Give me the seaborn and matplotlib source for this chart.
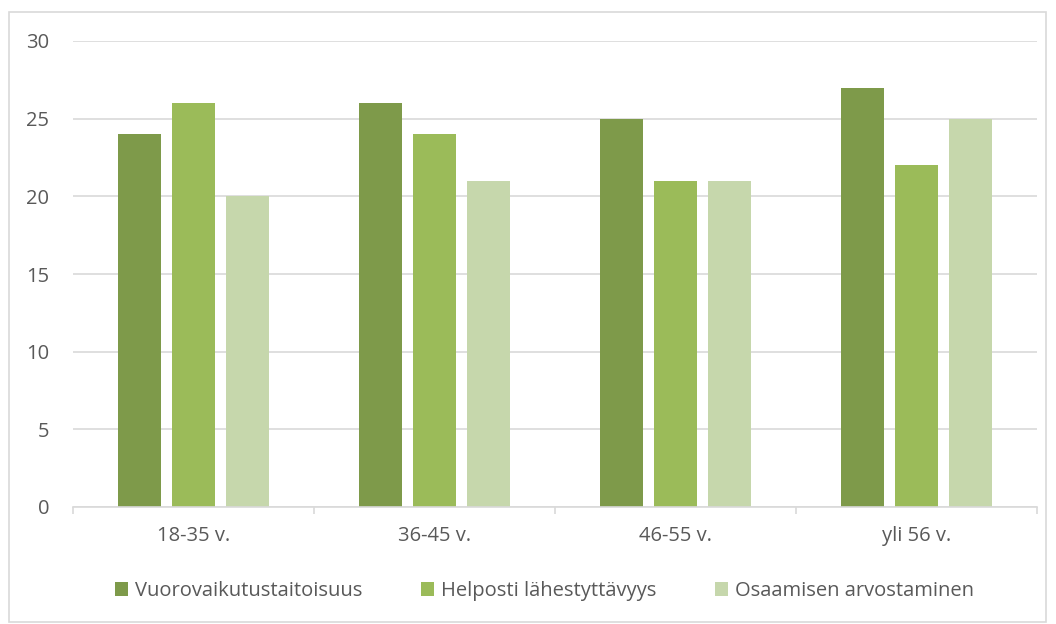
import numpy as np
import pandas as pd
import seaborn as sns
import matplotlib.pyplot as plt
from matplotlib.patches import Rectangle

# chart data
age_groups = ["18-35 v.", "36-45 v.", "46-55 v.", "yli 56 v."]
series_names = ["Vuorovaikutustaitoisuus", "Helposti lähestyttävyys", "Osaamisen arvostaminen"]
vuorovaikutus = [24, 26, 25, 27]
helposti = [26, 24, 21, 22]
osaaminen = [20, 21, 21, 25]
colors = ["#7E9A4A", "#9BBB59", "#C6D7AC"]

sns.set_style("white")
plt.rcParams['font.family'] = ['Open Sans', 'DejaVu Sans']

df = pd.DataFrame({
    "group": age_groups * 3,
    "series": [series_names[0]] * 4 + [series_names[1]] * 4 + [series_names[2]] * 4,
    "value": vuorovaikutus + helposti + osaaminen,
})

fig = plt.figure(figsize=(10.56, 6.24), dpi=100)
ax = fig.add_axes([73 / 1056, 1 - 507 / 624, (1037 - 73) / 1056, (507 - 41) / 624])

sns.barplot(data=df, x="group", y="value", hue="series", order=age_groups,
            hue_order=series_names, palette=dict(zip(series_names, colors)),
            width=0.672, gap=0.22, saturation=1, errorbar=None, linewidth=0, ax=ax)

txt_col = "#595959"
fs = 14.5
ax.set_xlim(-0.5, 3.5)
ax.set_ylim(0, 30)
ax.set_yticks(range(0, 31, 5))
ax.yaxis.grid(True, color="#D9D9D9", linewidth=1.2)
ax.set_axisbelow(True)
ax.set_xlabel("")
ax.set_ylabel("")
for s in ["top", "right", "left"]:
    ax.spines[s].set_visible(False)
ax.spines["bottom"].set_color("#D9D9D9")
ax.spines["bottom"].set_linewidth(1.2)
ax.tick_params(axis="y", length=0, pad=17, labelsize=fs, labelcolor=txt_col)
ax.tick_params(axis="x", which="major", length=0, pad=14, labelsize=fs, labelcolor=txt_col)
ax.set_xticks(np.arange(-0.5, 4.0, 1.0), minor=True)
ax.tick_params(axis="x", which="minor", bottom=True, length=5, color="#D9D9D9", width=1.2)

handles, labels = ax.get_legend_handles_labels()
ax.legend(handles, labels, loc="center", bbox_to_anchor=(0.489, -0.18), ncol=3,
          frameon=False, fontsize=fs, labelcolor=txt_col, handlelength=0.65,
          handleheight=0.65, handletextpad=0.35, columnspacing=2.9)

# outer chart border
fig.patches.append(Rectangle((9 / 1056, 1 - 622 / 624), 1037 / 1056, 610 / 624,
                             transform=fig.transFigure, fill=False,
                             edgecolor="#D9D9D9", linewidth=1.2))

fig.savefig("out.png", dpi=100)
